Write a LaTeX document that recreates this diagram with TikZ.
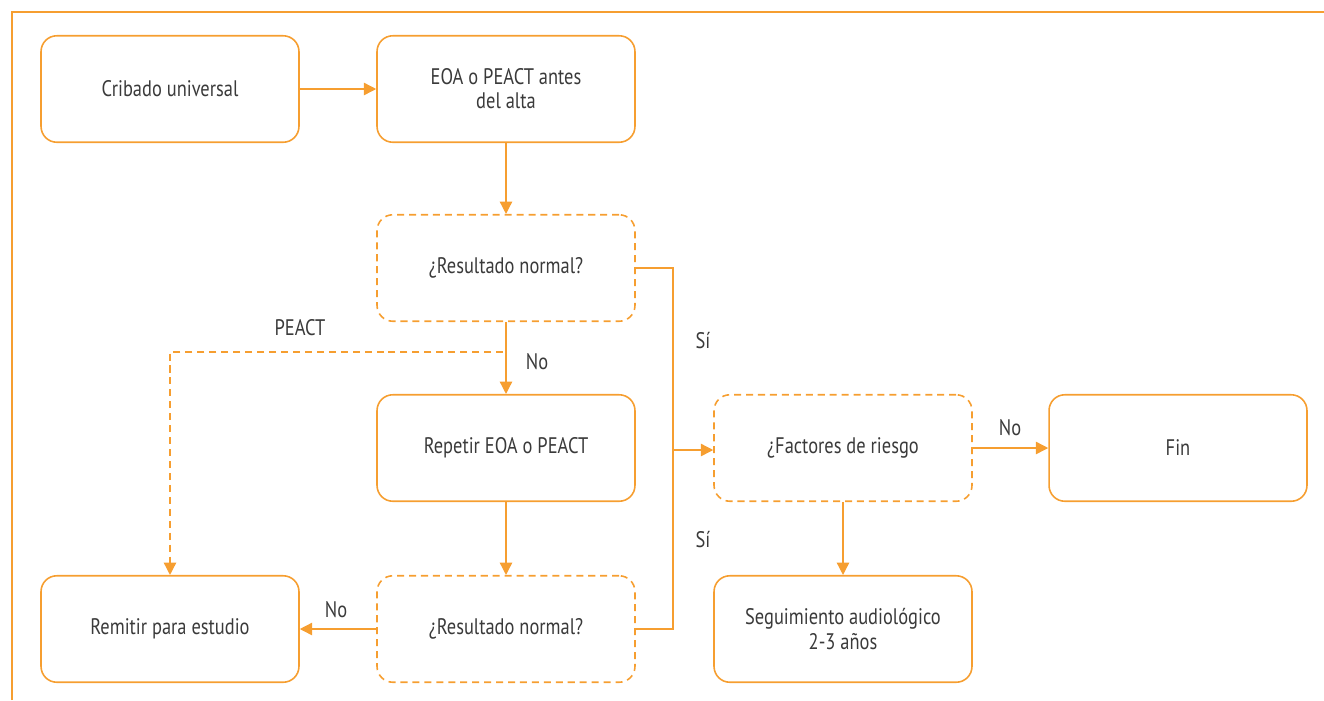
\documentclass[tikz,border=0pt]{standalone}
\usepackage{fontspec}
\setmainfont{PT Sans}[FakeStretch=0.82]
\usetikzlibrary{arrows.meta}
\definecolor{naranja}{RGB}{246,158,48}
\definecolor{texto}{RGB}{58,58,58}
\begin{document}
\begin{tikzpicture}[x=0.02cm,y=-0.02cm,
    caja/.style={draw=naranja,line width=0.9pt,rounded corners=9pt,
        minimum width=5.16cm,minimum height=2.13cm,align=center,
        text=texto,font=\fontsize{12.8}{13.8}\selectfont},
    pregunta/.style={caja,dash pattern=on 4pt off 2.8pt},
    flecha/.style={draw=naranja,line width=0.8pt,-{Triangle[length=7pt,width=7pt]}},
    linea/.style={draw=naranja,line width=0.8pt},
    rotulo/.style={text=texto,font=\fontsize{12.8}{14}\selectfont}]
                \useasboundingbox (0,0) rectangle (1324,700);
                % frame
                \draw [naranja,line width=1.2pt] (12,700) -- (12,12) -- (1324,12);

                \node [caja] (crib) at (170,89) {Cribado universal};
                \node [caja] (eoa) at (506,89) {EOA o PEACT antes\\del alta};
                \node [pregunta] (res1) at (506,268) {¿Resultado normal?};
                \node [caja] (rep) at (506,448) {Repetir EOA o PEACT};
                \node [pregunta] (res2) at (506,629) {¿Resultado normal?};
                \node [caja] (remit) at (170,629) {Remitir para estudio};
                \node [pregunta] (fact) at (843,448) {¿Factores de riesgo};
                \node [caja] (fin) at (1178,448) {Fin};
                \node [caja] (seg) at (843,629) {Seguimiento audiológico\\2-3 años};

                \coordinate (split) at (503,352);
                \coordinate (bus) at (673,450);

                \draw [flecha] (crib) -- (eoa);
                \draw [flecha] (eoa) -- (res1);
                \draw [flecha] (res1) -- (rep);
                \draw [linea,dash pattern=on 4pt off 2.8pt,-{Triangle[length=7pt,width=7pt]}]
                      (split) -| (remit.north);
                \draw [flecha] (rep) -- (res2);
                \draw [flecha] (res2) -- (remit);
                \draw [linea] (res1.east) -| (bus) |- (res2.east);
                \draw [flecha] (bus) -- (fact.west |- bus);
                \draw [flecha] (fact) -- (fin);
                \draw [flecha] (fact) -- (seg);

                \node [rotulo] (lpeact) at (300,328) {PEACT};
                \node [rotulo] (lno1) at (537,362) {No};
                \node [rotulo] (lsi1) at (703,341) {Sí};
                \node [rotulo] (lsi2) at (703,540) {Sí};
                \node [rotulo] (lno2) at (1010,428) {No};
                \node [rotulo] (lno3) at (336,610) {No};
            \end{tikzpicture}
\end{document}
